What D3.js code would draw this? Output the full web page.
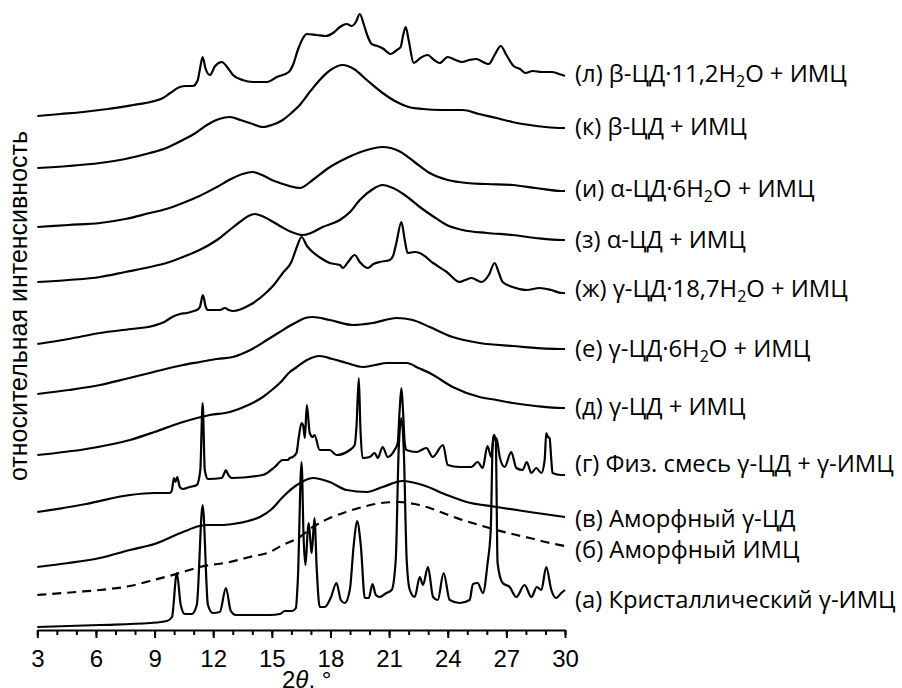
<!DOCTYPE html>
<html>
<head>
<meta charset="utf-8">
<script src="https://cdn.jsdelivr.net/npm/d3@7"></script>
<style>
  body { margin: 0; background: #fff; }
</style>
</head>
<body>
<svg id="chart" width="902" height="688"></svg>
<script>
// x axis: 2θ in degrees
const thetaDomain = [3, 30]
const majorTicks = [3, 6, 9, 12, 15, 18, 21, 24, 27, 30]
const minorTicks = [3, 4, 5, 6, 7, 8, 9, 10, 11, 12, 13, 14, 15, 16, 17, 18, 19, 20, 21, 22, 23, 24, 25, 26, 27, 28, 29, 30]
const xTitle = "2θ, °"
const yTitle = "относительная интенсивность"

// diffractograms, [2θ, stacked intensity in a.u.], bottom to top
const crystIMC = [[3,3],[6.2,5],[8.76,7],[9.63,9],[9.89,13],[10.14,57],[10.34,25],[10.55,16],[10.9,16],[11.16,25],[11.46,125],[11.73,25],[11.98,17],[12.34,18],[12.65,42],[12.9,19],[13.16,15],[14.9,15],[15.41,16],[15.67,19],[16.03,19],[16.23,22],[16.33,50],[16.52,168],[16.63,90],[16.72,65],[16.84,100],[16.89,107],[16.99,85],[17.04,77],[17.18,112],[17.3,60],[17.45,23],[17.71,23],[18.01,32],[18.31,47],[18.53,30],[18.73,27],[18.99,40],[19.19,85],[19.36,109],[19.55,85],[19.76,32],[19.96,32],[20.15,46],[20.32,35],[20.52,33],[20.86,37],[21.13,40],[21.34,70],[21.49,180],[21.63,212],[21.75,180],[21.9,70],[22.06,40],[22.31,33],[22.57,53],[22.73,45],[22.99,63],[23.25,33],[23.49,30],[23.79,57],[24.1,30],[24.61,27],[25.12,30],[25.29,46],[25.53,47],[25.8,37],[26.04,67],[26.2,100],[26.3,185],[26.38,195],[26.46,188],[26.55,67],[26.81,47],[27.17,43],[27.51,33],[27.93,45],[28.28,33],[28.56,43],[28.79,40],[29.04,63],[29.3,40],[29.55,32],[29.81,37],[30,40]]
const amorphIMC = [[3,35],[5,38],[6.2,40],[7.74,44],[8.76,49],[10.29,57],[11.3,63],[12.85,68],[13.87,73],[14.9,78],[15.56,85],[16.43,93],[17.1,103],[17.96,112],[18.8,118],[19.65,123],[20.6,127],[21.5,128],[22.3,126],[23.08,122],[23.9,116],[24.76,110],[25.6,105],[26.5,100],[27.3,96],[28.19,92],[29,88],[30,84]]
const amorphCD = [[3,63],[4.6,67],[6.2,72],[7.74,80],[9,86],[10.45,98],[11.3,104],[11.68,105],[12.4,105],[13,106],[13.8,109],[14.39,113],[15,121],[15.56,133],[16.28,145],[17.09,152],[17.96,148],[18.83,140],[19.86,138],[20.67,143],[21.69,149],[22.72,145],[23.95,135],[24.97,128],[26.5,123],[28.19,118],[30,113]]
const physMix = [[3,118],[5.5,126],[7.74,135],[9,137],[9.78,137],[9.89,140],[9.99,152],[10.07,148],[10.16,153],[10.29,143],[10.45,141],[10.8,143],[11.16,145],[11.34,160],[11.46,227],[11.57,160],[11.73,151],[12.44,152],[12.55,156],[12.65,160],[12.75,156],[12.95,152],[14.54,155],[15.15,163],[15.56,170],[15.82,170],[15.92,172],[16.07,173],[16.26,177],[16.38,193],[16.52,207],[16.6,205],[16.69,192],[16.79,225],[16.94,197],[17.09,193],[17.18,195],[17.45,180],[17.96,180],[18.31,175],[18.99,180],[19.24,185],[19.33,203],[19.45,252],[19.53,203],[19.64,172],[20.01,173],[20.26,177],[20.42,172],[20.67,183],[20.93,173],[21.28,180],[21.44,187],[21.54,220],[21.63,242],[21.71,220],[21.8,187],[21.89,180],[22.4,178],[22.91,182],[23.23,173],[23.76,185],[24,165],[24.61,163],[25.21,163],[25.53,168],[25.79,162],[26.03,184],[26.23,173],[26.35,195],[26.42,190],[26.49,192],[26.66,173],[26.91,163],[27.25,178],[27.51,162],[27.83,160],[28.04,168],[28.28,157],[28.53,162],[28.79,157],[28.96,170],[29.04,197],[29.13,193],[29.21,192],[29.3,170],[29.36,157],[29.81,155],[30,155]]
const gammaCD = [[3,175],[5.5,181],[7.74,190],[9,198],[10.29,207],[11.83,215],[12.85,218],[13.8,225],[14.54,233],[15,240],[15.41,247],[15.92,258],[16.28,263],[16.8,270],[17.45,274],[18.1,271],[18.83,267],[19.65,263],[20.3,265],[20.88,267],[21.9,267],[22.5,262],[23.08,257],[24.25,243],[25.63,233],[26.5,230],[27.32,227],[28.5,224],[29.83,222],[30,222]]
const gammaCD6 = [[3,236],[4.6,240],[6.21,245],[7.5,251],[8.76,257],[10.45,265],[11.32,268],[12.2,271],[13,273],[13.9,280],[14.75,290],[15.41,298],[15.9,304],[16.28,308],[16.7,312],[17.09,313],[17.96,310],[19.14,305],[20.17,307],[21.39,312],[22.21,310],[23.08,303],[24.25,293],[25.63,287],[27.32,284],[29.83,281],[30,281]]
const gammaCD18 = [[3,286],[4.6,291],[6.21,297],[7.8,301],[8.9,304],[9.5,308],[9.9,313],[10.3,316],[10.65,317],[11,319],[11.16,320],[11.32,323],[11.47,335],[11.62,323],[11.73,320],[12.1,320],[12.34,320],[12.6,322],[12.8,320],[13.01,319],[13.87,325],[14.75,338],[15.1,345],[15.56,357],[16,368],[16.28,383],[16.52,393],[16.8,384],[17.09,378],[17.5,372],[17.96,367],[18.48,365],[18.63,362],[18.9,368],[19.24,375],[19.5,368],[19.91,362],[20.2,366],[20.52,368],[21.03,370],[21.2,374],[21.37,387],[21.63,408],[21.8,390],[21.95,377],[22.3,378],[22.57,377],[23.25,367],[23.95,358],[24.61,348],[24.9,350],[25.22,352],[25.73,348],[26.1,355],[26.4,367],[26.6,358],[26.81,348],[27.32,343],[28.04,340],[28.7,342],[29.3,340],[29.83,337],[30,337]]
const alphaCD = [[3,348],[4.6,350],[6.21,353],[7.5,358],[8.76,363],[9.6,367],[10.45,373],[11.3,380],[12.19,390],[12.9,401],[13.36,408],[13.8,414],[14.13,416],[14.5,414],[14.9,410],[15.5,403],[16,398],[16.58,395],[17,397],[17.6,403],[18.48,410],[19,418],[19.5,430],[20.1,440],[20.67,445],[21.2,442],[21.8,435],[22.57,423],[23.3,413],[23.95,405],[24.76,400],[26,397],[27.32,395],[28.5,392],[29.83,390],[30,390]]
const alphaCD6 = [[3,403],[4.6,405],[6.21,407],[7.5,411],[8.76,417],[9.6,421],[10.45,427],[11.3,434],[12.19,443],[13.01,452],[13.5,456],[14.03,458],[14.5,455],[15,450],[15.41,447],[15.9,444],[16.43,442],[17.09,450],[17.9,462],[18.83,472],[19.7,479],[20.67,483],[21.5,479],[22.3,468],[23.08,457],[24,450],[24.97,447],[26,446],[27.32,445],[28.5,442],[29.83,439],[30,439]]
const betaCD = [[3,462],[4.6,464],[6.21,467],[7.5,471],[8.76,477],[9.6,482],[10.45,490],[11.1,497],[11.68,505],[12.3,511],[12.85,513],[13.4,510],[13.87,507],[14.54,503],[15,505],[15.56,510],[16,517],[16.43,525],[16.9,537],[17.45,550],[18,560],[18.63,565],[19.2,561],[19.86,550],[20.6,538],[21.39,528],[22,523],[22.72,521],[23.7,520],[24.76,520],[25.6,516],[26.5,512],[27.3,508],[28.19,505],[29,503],[29.83,502],[30,502]]
const betaCD11 = [[3,514],[4.2,516],[5.35,518],[6.6,521],[7.9,525],[8.8,528],[9.43,532],[9.8,537],[10.29,543],[10.6,544],[10.96,544],[11.21,550],[11.33,562],[11.46,573],[11.6,562],[11.83,555],[12.1,564],[12.44,568],[12.75,562],[13.01,555],[13.5,550],[14.03,548],[14.75,548],[15.26,553],[15.87,558],[16.1,566],[16.33,580],[16.6,592],[16.79,596],[17.3,595],[17.76,594],[18.2,598],[18.48,603],[18.83,606],[19.09,604],[19.3,608],[19.5,616],[19.7,606],[19.86,596],[20.11,586],[20.4,584],[20.72,581],[20.9,578],[21.08,576],[21.4,580],[21.59,583],[21.72,595],[21.85,603],[22,590],[22.26,567],[22.6,572],[22.97,575],[23.3,570],[23.59,567],[24,573],[24.4,570],[24.71,568],[25.1,570],[25.48,571],[25.8,568],[26.09,566],[26.4,575],[26.71,584],[27,575],[27.37,564],[27.7,561],[27.98,557],[28.34,559],[28.8,558],[29.31,558],[29.7,556],[30,554]]

const series = [crystIMC, amorphIMC, amorphCD, physMix, gammaCD, gammaCD6, gammaCD18, alphaCD, alphaCD6, betaCD, betaCD11]
// "_2" marks a subscript 2
const labels = ["(а) Кристаллический γ-ИМЦ", "(б) Аморфный ИМЦ", "(в) Аморфный γ-ЦД",
  "(г) Физ. смесь γ-ЦД + γ-ИМЦ", "(д) γ-ЦД + ИМЦ", "(е) γ-ЦД·6H_2O + ИМЦ",
  "(ж) γ-ЦД·18,7H_2O + ИМЦ", "(з) α-ЦД + ИМЦ", "(и) α-ЦД·6H_2O + ИМЦ",
  "(к) β-ЦД + ИМЦ", "(л) β-ЦД·11,2H_2O + ИМЦ"]
const dashed = [false, true, false, false, false, false, false, false, false, false, false]

// layout
const plot = { left: 37.3, right: 565, bottom: 630, top: 0 }
const labelX = 575
const labelBaseline = [608, 558, 527, 472, 415, 357, 297, 248, 197, 135, 82]

const svg = d3.select("#chart")

const x = d3.scaleLinear().domain(thetaDomain).range([plot.left, plot.right])
const y = d3.scaleLinear().domain([0, 630]).range([plot.bottom, plot.top])

const line = d3.line()
  .x(d => x(d[0]))
  .y(d => y(d[1]))
  .curve(d3.curveMonotoneX)

svg.append("g")
  .selectAll("path")
  .data(series)
  .join("path")
  .attr("d", line)
  .attr("fill", "none")
  .attr("stroke", "#000")
  .attr("stroke-width", 2.2)
  .attr("stroke-linejoin", "round")
  .attr("stroke-dasharray", (d, i) => dashed[i] ? "9,6" : null)

// minor ticks
svg.append("g")
  .attr("transform", `translate(0,${plot.bottom})`)
  .call(d3.axisBottom(x).tickValues(minorTicks).tickSize(5).tickFormat(""))
  .call(g => g.select(".domain").remove())
  .call(g => g.selectAll(".tick line").attr("stroke", "#000").attr("stroke-width", 2))

// major ticks with labels
svg.append("g")
  .attr("transform", `translate(0,${plot.bottom})`)
  .call(d3.axisBottom(x).tickValues(majorTicks).tickSize(8).tickSizeOuter(0).tickPadding(0))
  .call(g => g.select(".domain").attr("stroke", "#000").attr("stroke-width", 2.2))
  .call(g => g.selectAll(".tick line").attr("stroke", "#000").attr("stroke-width", 2))
  .call(g => g.selectAll(".tick text")
    .attr("y", 37).attr("dy", null)
    .attr("fill", "#000")
    .attr("font-family", "'Liberation Sans', Arial, sans-serif")
    .attr("font-size", 24))

// x title with italic theta
const xt = svg.append("text")
  .attr("x", 282).attr("y", 688)
  .attr("font-family", "'Liberation Sans', Arial, sans-serif")
  .attr("font-size", 24)
xt.append("tspan").text(xTitle.slice(0, 1))
xt.append("tspan").attr("font-style", "italic").text(xTitle.slice(1, 2))
xt.append("tspan").text(xTitle.slice(2))

// y title
svg.append("text")
  .attr("transform", "translate(27,306) rotate(-90)")
  .attr("text-anchor", "middle")
  .attr("font-family", "'Liberation Sans', Arial, sans-serif")
  .attr("font-size", 25)
  .text(yTitle)

// series labels
const lab = svg.append("g")
  .attr("font-family", "'Open Sans', sans-serif")
  .attr("font-size", 23.8)
  .selectAll("text")
  .data(labels)
  .join("text")
  .attr("x", labelX)
  .attr("y", (d, i) => labelBaseline[i])

lab.each(function (d) {
  const t = d3.select(this)
  const parts = d.split("_2")
  parts.forEach((p, k) => {
    if (k > 0) {
      t.append("tspan").attr("font-size", 16).attr("dy", 5).text("2")
      t.append("tspan").attr("dy", -5).text(p)
    } else {
      t.append("tspan").text(p)
    }
  })
})
</script>
</body>
</html>
